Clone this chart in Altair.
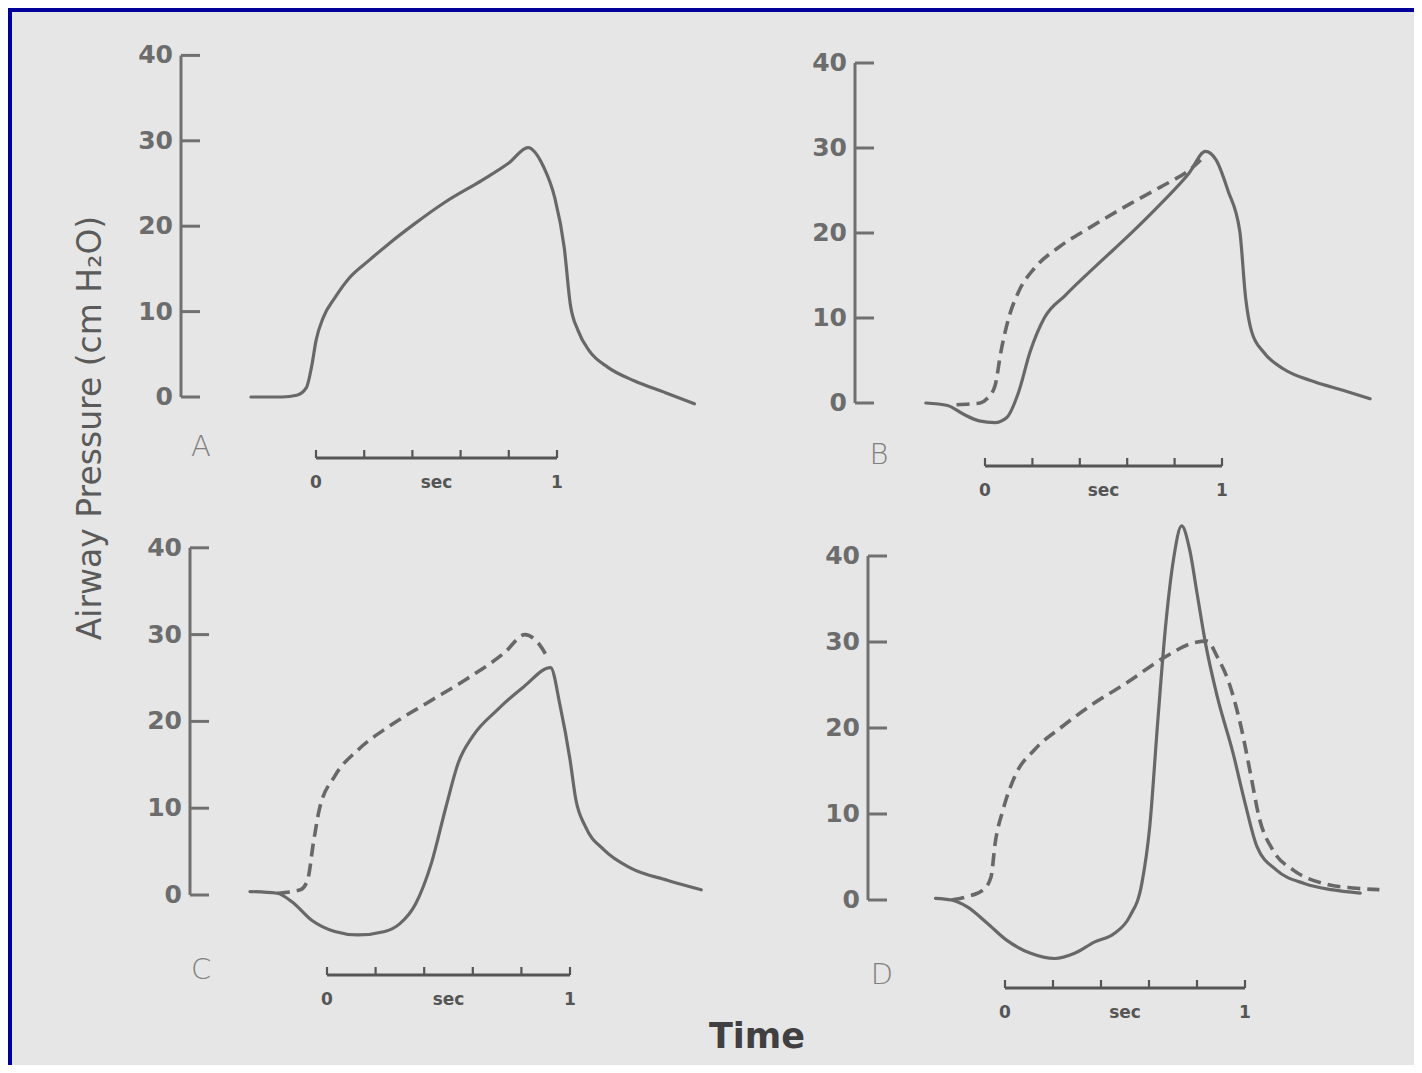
import altair as alt
import pandas as pd

# ---------------- data (time in s, airway pressure in cm H2O) ----------------
A_t = [-0.27, -0.14, -0.08, -0.04, -0.016, 0.0, 0.03, 0.08, 0.14, 0.22, 0.30, 0.41,
       0.535, 0.69, 0.80, 0.88, 0.945, 0.99, 1.03, 1.055, 1.087, 1.134, 1.21, 1.32, 1.45, 1.57]
A_p = [0, 0, 0.2, 1.1, 3.9, 6.6, 9.3, 11.7, 14.0, 16.0, 17.9, 20.3,
       22.8, 25.4, 27.4, 29.2, 26.9, 23.4, 17.5, 10.9, 7.8, 5.4, 3.5, 1.9, 0.5, -0.8]

B_t = [-0.25, -0.158, -0.092, -0.025, 0.042, 0.092, 0.142, 0.19, 0.25, 0.34, 0.475, 0.61,
       0.74, 0.86, 0.93, 0.975, 1.025, 1.075, 1.10, 1.125, 1.175, 1.26, 1.39, 1.51, 1.625]
B_p = [0, -0.3, -1.3, -2.1, -2.3, -1.7, 1.3, 6.0, 10.0, 12.7, 16.3, 19.8,
       23.4, 27.0, 29.6, 28.6, 25.0, 20.2, 12.3, 8.4, 6.0, 4.0, 2.5, 1.5, 0.5]
Bd_t = [-0.12, -0.06, -0.02, 0.008, 0.042, 0.067, 0.10, 0.142, 0.21, 0.31, 0.44, 0.61, 0.74, 0.875, 0.91]
Bd_p = [-0.2, -0.1, 0.0, 0.5, 2.0, 6.0, 10.0, 13.1, 15.9, 18.3, 20.6, 23.4, 25.4, 27.7, 28.6]

C_t = [-0.317, -0.206, -0.143, -0.063, 0.032, 0.127, 0.238, 0.30, 0.365, 0.43, 0.49, 0.54,
       0.60, 0.70, 0.81, 0.92, 0.96, 1.0, 1.024, 1.063, 1.14, 1.25, 1.40, 1.54]
C_p = [0.4, 0.2, -0.8, -2.9, -4.2, -4.6, -4.2, -3.3, -1.0, 3.7, 10.2, 15.2,
       18.3, 21.3, 24.0, 26.2, 21.7, 15.6, 11.0, 7.9, 5.2, 3.1, 1.7, 0.6]
Cd_t = [-0.206, -0.11, -0.08, -0.056, -0.032, 0.032, 0.127, 0.254, 0.41, 0.57, 0.73, 0.815, 0.87, 0.905]
Cd_p = [0.2, 0.6, 1.7, 6.0, 9.8, 13.7, 16.7, 19.4, 22.1, 24.8, 27.9, 30.0, 29.0, 27.5]

D_t = [-0.29, -0.223, -0.157, -0.074, 0.008, 0.107, 0.207, 0.29, 0.372, 0.455, 0.52, 0.57,
       0.603, 0.636, 0.669, 0.702, 0.736, 0.769, 0.80, 0.835, 0.884, 0.95, 1.0, 1.05,
       1.13, 1.25, 1.36, 1.48]
D_p = [0.2, 0, -0.8, -2.7, -4.7, -6.2, -6.8, -6.2, -4.9, -3.9, -1.9, 1.9,
       8.5, 20.6, 31.8, 39.6, 43.5, 40.8, 35.7, 29.9, 23.7, 17.1, 11.3, 6.2,
       3.5, 1.9, 1.2, 0.8]
Dd_t = [-0.223, -0.157, -0.09, -0.058, -0.041, -0.008, 0.041, 0.124, 0.24, 0.372, 0.504, 0.669,
        0.785, 0.843, 0.884, 0.934, 0.983, 1.025, 1.058, 1.116, 1.2, 1.33, 1.45, 1.56]
Dd_p = [0, 0.4, 1.2, 2.7, 6.6, 10.5, 14.4, 17.5, 20.2, 22.9, 25.2, 28.3,
        29.9, 30.1, 28.3, 25.2, 20.2, 14.4, 9.7, 5.8, 3.5, 1.9, 1.4, 1.2]

Y_TICKS = [0, 10, 20, 30, 40]
T_TICKS = [0, 0.2, 0.4, 0.6, 0.8, 1.0]
T_LABEL_POS = [0, 0.5, 1]
T_LABELS = ["0", "sec", "1"]
Y_TITLE = "Airway Pressure (cm H\u2082O)"
X_TITLE = "Time"

# ---------------- layout (page pixels) ----------------
PAD_L, PAD_T = 4, 4
VIEW_W, VIEW_H = 1402, 1053
VIEW_L, VIEW_T = 8 + PAD_L, 8 + PAD_T
VIEW_R, VIEW_B = VIEW_L + VIEW_W, VIEW_T + VIEW_H
PANELS = {
    "A": dict(x0=316, sx=241, y0=397, sy=8.54, axis_x=181, base_y=458, letter=(201, 447)),
    "B": dict(x0=985, sx=237, y0=403, sy=8.5, axis_x=855, base_y=466, letter=(879, 455)),
    "C": dict(x0=327, sx=243, y0=895, sy=8.68, axis_x=190, base_y=975, letter=(201, 970)),
    "D": dict(x0=1005, sx=240, y0=900, sy=8.6, axis_x=868, base_y=988, letter=(882, 975)),
}

LINE_COLOR = "#686868"
AXIS_COLOR = "#707070"
FONT = "DejaVu Sans"


def build_panel(key, solid, dashed=None, extra=None):
    c = PANELS[key]
    tx = lambda px: (px - c["x0"]) / c["sx"]
    py_ = lambda py: (c["y0"] - py) / c["sy"]
    xs = alt.Scale(domain=[tx(VIEW_L), tx(VIEW_R)], nice=False, zero=False)
    ys = alt.Scale(domain=[py_(VIEW_B), py_(VIEW_T)], nice=False, zero=False)
    X = lambda f: alt.X(f, type="quantitative", scale=xs, axis=None)
    Y = lambda f: alt.Y(f, type="quantitative", scale=ys, axis=None)

    axis_t = tx(c["axis_x"])
    tick_t = tx(c["axis_x"] + 19)
    base_p = py_(c["base_y"])
    up_p = py_(c["base_y"] - 8)

    layers = []
    sdf = pd.DataFrame({"t": solid[0], "p": solid[1]})
    layers.append(alt.Chart(sdf).mark_line(color=LINE_COLOR, strokeWidth=3.2,
                                           interpolate="monotone", strokeCap="round")
                  .encode(x=X("t"), y=Y("p")))
    if dashed is not None:
        ddf = pd.DataFrame({"t": dashed[0], "p": dashed[1]})
        layers.append(alt.Chart(ddf).mark_line(color=LINE_COLOR, strokeWidth=3.6,
                                               strokeDash=[13, 7], interpolate="monotone")
                      .encode(x=X("t"), y=Y("p")))
    # y axis bracket
    vdf = pd.DataFrame({"t": [axis_t], "p0": [Y_TICKS[0]], "p1": [Y_TICKS[-1]]})
    layers.append(alt.Chart(vdf).mark_rule(color=AXIS_COLOR, strokeWidth=3)
                  .encode(x=X("t"), y=Y("p0"), y2="p1"))
    tdf = pd.DataFrame({"t0": [axis_t] * len(Y_TICKS), "t1": [tick_t] * len(Y_TICKS),
                        "p": Y_TICKS, "lab": [str(v) for v in Y_TICKS]})
    layers.append(alt.Chart(tdf).mark_rule(color=AXIS_COLOR, strokeWidth=3)
                  .encode(x=X("t0"), x2="t1", y=Y("p")))
    layers.append(alt.Chart(tdf).mark_text(align="right", baseline="middle", dx=-8,
                                           font=FONT, fontSize=25, fontWeight="bold",
                                           color="#6c6c6c")
                  .encode(x=X("t0"), y=Y("p"), text="lab"))
    # time scale bar
    hdf = pd.DataFrame({"t0": [T_TICKS[0]], "t1": [T_TICKS[-1]], "p": [base_p]})
    layers.append(alt.Chart(hdf).mark_rule(color="#555555", strokeWidth=2.8)
                  .encode(x=X("t0"), x2="t1", y=Y("p")))
    kdf = pd.DataFrame({"t": T_TICKS, "p0": [base_p] * len(T_TICKS), "p1": [up_p] * len(T_TICKS)})
    layers.append(alt.Chart(kdf).mark_rule(color="#555555", strokeWidth=2.2)
                  .encode(x=X("t"), y=Y("p0"), y2="p1"))
    ldf = pd.DataFrame({"t": T_LABEL_POS, "p": [base_p] * 3, "lab": T_LABELS})
    layers.append(alt.Chart(ldf).mark_text(align="center", baseline="middle", dy=25,
                                           font=FONT, fontSize=17, fontWeight="bold",
                                           color="#555555")
                  .encode(x=X("t"), y=Y("p"), text="lab"))
    # panel letter
    lx, ly = c["letter"]
    pdf_ = pd.DataFrame({"t": [tx(lx)], "p": [py_(ly)], "lab": [key]})
    layers.append(alt.Chart(pdf_).mark_text(align="center", baseline="middle",
                                            font=FONT, fontSize=29, fontWeight=300,
                                            color="#808080")
                  .encode(x=X("t"), y=Y("p"), text="lab"))
    if extra:
        for (px, pyy, txt, props) in extra:
            edf = pd.DataFrame({"t": [tx(px)], "p": [py_(pyy)], "lab": [txt]})
            layers.append(alt.Chart(edf).mark_text(**props)
                          .encode(x=X("t"), y=Y("p"), text="lab"))
    return alt.layer(*layers)


panel_a = build_panel("A", (A_t, A_p), extra=[
    (91, 428, Y_TITLE, dict(align="center", baseline="middle", angle=270, font=FONT,
                            fontSize=33, color="#5a5a5a")),
])
panel_b = build_panel("B", (B_t, B_p), (Bd_t, Bd_p))
panel_c = build_panel("C", (C_t, C_p), (Cd_t, Cd_p), extra=[
    (757, 1037, X_TITLE, dict(align="center", baseline="middle", font=FONT,
                              fontSize=35, fontWeight="bold", color="#404040")),
])
panel_d = build_panel("D", (D_t, D_p), (Dd_t, Dd_p))

chart = (
    alt.layer(panel_a, panel_b, panel_c, panel_d)
    .resolve_scale(x="independent", y="independent")
    .properties(width=VIEW_W, height=VIEW_H,
                autosize=alt.AutoSizeParams(type="none"),
                padding={"left": PAD_L, "top": PAD_T, "right": 0, "bottom": 0},
                background="#000099")
    .configure_view(fill="#e6e6e6", stroke=None)
)

chart.save("out.html", embed_options={"renderer": "svg", "actions": False})
